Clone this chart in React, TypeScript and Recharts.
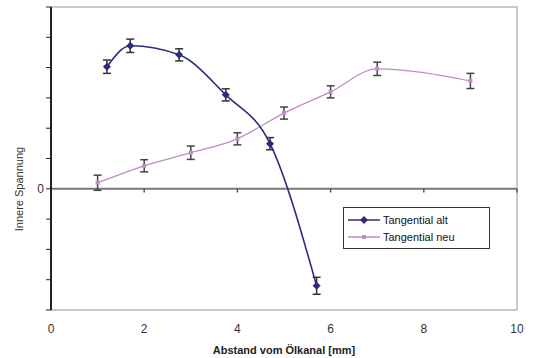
import { ComposedChart, Line, XAxis, YAxis, ErrorBar, ReferenceLine, ReferenceArea, Label } from "recharts"

const altX = [1.2, 1.7, 2.75, 3.75, 4.7, 5.7]
const altY = [4.03, 4.72, 4.42, 3.1, 1.49, -3.2]
const altErr = [0.22, 0.22, 0.2, 0.2, 0.2, 0.28]

const neuX = [1, 2, 3, 4, 5, 6, 7, 9]
const neuY = [0.2, 0.76, 1.19, 1.65, 2.5, 3.2, 3.96, 3.56]
const neuErr = [0.25, 0.2, 0.22, 0.2, 0.2, 0.2, 0.22, 0.25]

const xTicks = [0, 2, 4, 6, 8, 10]
const yTicks = [-4, -3, -2, -1, 0, 1, 2, 3, 4, 5, 6]

const ALT = "#2b2d7c"
const NEU = "#c08cc4"
const FONT = "Arial, Liberation Sans, sans-serif"

const altData = altX.map((x, i) => ({ x, y: altY[i], err: altErr[i] }))
const neuData = neuX.map((x, i) => ({ x, y: neuY[i], err: neuErr[i] }))

const Diamond = (p: any) => {
    const { cx, cy, fill } = p
    if (cx == null || cy == null) return <g />
    return <path d={`M${cx},${cy - 4}L${cx + 4},${cy}L${cx},${cy + 4}L${cx - 4},${cy}Z`} fill={fill} />
}

const Square = (p: any) => {
    const { cx, cy, fill } = p
    if (cx == null || cy == null) return <g />
    return <rect x={cx - 2} y={cy - 2} width={4} height={4} fill={fill} />
}

const legendItems = [
    { name: "Tangential alt", color: ALT, dot: "d" },
    { name: "Tangential neu", color: NEU, dot: "s" },
]

const LegendBox = () => (
    <div style={{ position: "absolute", left: 343, top: 207, width: 141, border: "1.5px solid #333", background: "#fff", padding: "3px 0 3px 4px", fontFamily: FONT, fontSize: 11, color: "#111" }}>
        {legendItems.map((e) => (
            <div key={e.name} style={{ display: "flex", alignItems: "center", height: 17 }}>
                <svg width={32} height={10} style={{ marginRight: 3 }}>
                    <line x1={0} y1={5} x2={32} y2={5} stroke={e.color} strokeWidth={1.5} />
                    {e.dot === "d"
                        ? <path d="M16,1L20,5L16,9L12,5Z" fill={e.color} />
                        : <rect x={14} y={3} width={4} height={4} fill={e.color} />}
                </svg>
                <span>{e.name}</span>
            </div>
        ))}
    </div>
)

export default function App() {
    return (
        <div style={{ position: "absolute", left: 0, top: 0, width: 534, height: 358, background: "#fff" }}>
            <ComposedChart width={534} height={358} margin={{ top: 7, right: 17, left: 0, bottom: 0 }}>
                <ReferenceArea x1={0} x2={10} y1={-4} y2={6} fill="none" stroke="#b8b8b8" strokeWidth={1.5} />
                <XAxis
                    type="number"
                    dataKey="x"
                    domain={[0, 10]}
                    ticks={xTicks}
                    axisLine={false}
                    tickLine={false}
                    height={48}
                    tick={{ fontSize: 12, fill: "#333", fontFamily: FONT }}
                    tickMargin={8}
                >
                    <Label value="Abstand vom Ölkanal [mm]" position="insideBottom" offset={4} style={{ fontSize: 11, fontWeight: "bold", fill: "#222", fontFamily: FONT }} />
                </XAxis>
                <YAxis
                    type="number"
                    domain={[-4, 6]}
                    ticks={yTicks}
                    width={51}
                    axisLine={{ stroke: "#222", strokeWidth: 2 }}
                    tickLine={{ stroke: "#222" }}
                    tickSize={5}
                    tickFormatter={(v: number) => (v === 0 ? "0" : "")}
                    tick={{ fontSize: 12, fill: "#333", fontFamily: FONT }}
                />
                <ReferenceLine y={0} stroke="#777" strokeWidth={2} />
                {xTicks.slice(1).map((t) => (
                    <ReferenceLine key={t} segment={[{ x: t, y: 0 }, { x: t, y: -0.12 }]} stroke="#555" strokeWidth={1.5} />
                ))}
                <Line data={neuData} dataKey="y" type="monotone" stroke={NEU} strokeWidth={1.3} dot={<Square fill={NEU} />} isAnimationActive={false} legendType="none">
                    <ErrorBar dataKey="err" direction="y" width={4} stroke="#444" strokeWidth={1.5} />
                </Line>
                <Line data={altData} dataKey="y" type="monotone" stroke={ALT} strokeWidth={1.6} dot={<Diamond fill={ALT} />} isAnimationActive={false} legendType="none">
                    <ErrorBar dataKey="err" direction="y" width={4} stroke="#333" strokeWidth={1.5} />
                </Line>
            </ComposedChart>
            <div style={{ position: "absolute", left: 19, top: 189, transform: "translate(-50%, -50%) rotate(-90deg)", whiteSpace: "nowrap", fontFamily: FONT, fontSize: 11, color: "#333" }}>
                Innere Spannung
            </div>
            <LegendBox />
        </div>
    )
}
